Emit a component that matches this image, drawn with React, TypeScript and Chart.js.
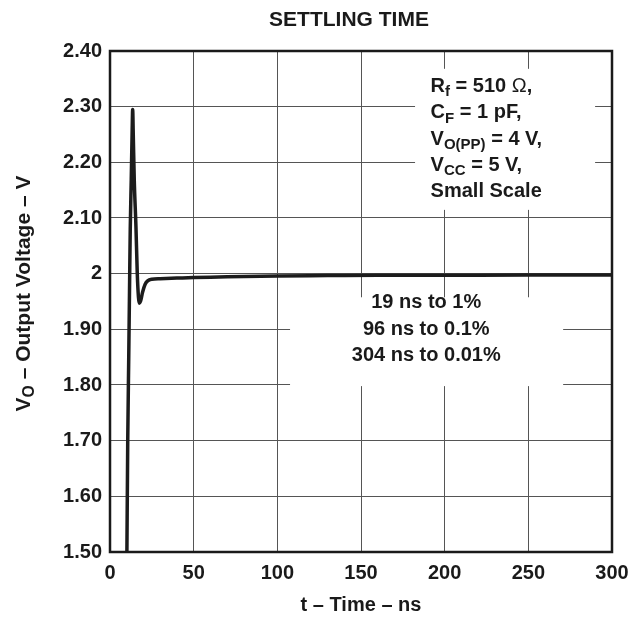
import React, { useEffect, useRef } from "react";
import { Chart, registerables } from "chart.js";

Chart.register(...registerables);

// ---- data ----
const timeNs = [
  10.1, 10.6, 11.2, 11.7, 12.1, 12.7, 13.2, 13.55, 13.9, 14.5, 15.5, 16.3, 17.0, 17.5, 18.2,
  19.5, 21.0, 22.5, 25, 30, 40, 50, 65, 80, 100, 130, 160, 200, 250, 300,
];
const outputVoltage = [
  1.5, 1.7, 1.85, 1.98, 2.08, 2.17, 2.25, 2.295, 2.25, 2.168, 2.085, 2.0, 1.958, 1.947, 1.95,
  1.967, 1.981, 1.987, 1.99, 1.991, 1.992, 1.993, 1.994, 1.995, 1.996, 1.9965, 1.997, 1.9972,
  1.9975, 1.9978,
];
const xTickLabels = ["0", "50", "100", "150", "200", "250", "300"];
const yTickLabels = ["1.50", "1.60", "1.70", "1.80", "1.90", "2", "2.10", "2.20", "2.30", "2.40"];

const chartTitle = "SETTLING TIME";
const xAxisTitle = "t – Time – ns";

type Part = { t: string; sub?: boolean; light?: boolean };
const yAxisTitle: Part[] = [{ t: "V" }, { t: "O", sub: true }, { t: " – Output Voltage – V" }];

const conditionLines: Part[][] = [
  [{ t: "R" }, { t: "f", sub: true }, { t: " = 510 " }, { t: "Ω", light: true }, { t: "," }],
  [{ t: "C" }, { t: "F", sub: true }, { t: " = 1 pF," }],
  [{ t: "V" }, { t: "O(PP)", sub: true }, { t: " = 4 V," }],
  [{ t: "V" }, { t: "CC", sub: true }, { t: " = 5 V," }],
  [{ t: "Small Scale" }],
];
const settlingLines: Part[][] = [
  [{ t: "19 ns to 1%" }],
  [{ t: "96 ns to 0.1%" }],
  [{ t: "304 ns to 0.01%" }],
];

const FONT = "'Liberation Sans', Arial, Helvetica, sans-serif";
const TEXT = "#1a1a1a";

function setFont(ctx: CanvasRenderingContext2D, size: number, p: Part) {
  const s = p.sub ? size * 0.75 : size;
  ctx.font = `${p.light ? "normal" : "bold"} ${s}px ${FONT}`;
}
function richWidth(ctx: CanvasRenderingContext2D, parts: Part[], size: number) {
  let w = 0;
  for (const p of parts) {
    setFont(ctx, size, p);
    w += ctx.measureText(p.t).width;
  }
  return w;
}
function drawRich(
  ctx: CanvasRenderingContext2D,
  parts: Part[],
  x: number,
  y: number,
  size: number,
  align: "left" | "center"
) {
  let cx = align === "center" ? x - richWidth(ctx, parts, size) / 2 : x;
  ctx.textAlign = "left";
  ctx.textBaseline = "alphabetic";
  for (const p of parts) {
    setFont(ctx, size, p);
    ctx.fillText(p.t, cx, y + (p.sub ? size * 0.22 : 0));
    cx += ctx.measureText(p.t).width;
  }
}

const decorPlugin = {
  id: "decor",
  beforeDatasetsDraw(chart: any) {
    const { ctx, scales } = chart;
    const x = scales.x;
    const y = scales.y;
    ctx.save();
    ctx.fillStyle = "#ffffff";
    // boxes behind annotation text (data coordinates)
    const boxes = [
      [182.3, 289.9, 2.368, 2.1146],
      [107.6, 270.8, 1.9576, 1.798],
    ];
    for (const [x0, x1, y0, y1] of boxes) {
      const px0 = x.getPixelForValue(x0);
      const px1 = x.getPixelForValue(x1);
      const py0 = y.getPixelForValue(y0);
      const py1 = y.getPixelForValue(y1);
      ctx.fillRect(px0, py0, px1 - px0, py1 - py0);
    }
    ctx.restore();
  },
  afterDraw(chart: any) {
    const { ctx, chartArea: a, scales } = chart;
    const x = scales.x;
    const y = scales.y;
    ctx.save();
    // frame
    ctx.strokeStyle = "#1a1a1a";
    ctx.lineWidth = 2.5;
    ctx.strokeRect(a.left, a.top, a.right - a.left, a.bottom - a.top);

    ctx.fillStyle = TEXT;
    // title
    ctx.font = `bold 21px ${FONT}`;
    ctx.textAlign = "center";
    ctx.textBaseline = "alphabetic";
    ctx.fillText(chartTitle, (a.left + a.right) / 2 - 12, 26);
    // x axis title
    ctx.font = `bold 20px ${FONT}`;
    ctx.fillText(xAxisTitle, (a.left + a.right) / 2, 611);
    // y axis title (rotated)
    ctx.save();
    ctx.translate(29.5, (a.top + a.bottom) / 2 - 8);
    ctx.rotate(-Math.PI / 2);
    drawRich(ctx, yAxisTitle, 0, 0, 21, "center");
    ctx.restore();

    // condition annotation (left aligned)
    const cx = x.getPixelForValue(191.6);
    const cy0 = y.getPixelForValue(2.3);
    const lh = 26.3;
    conditionLines.forEach((ln, i) => drawRich(ctx, ln, cx, cy0 - 14.7 + i * lh, 20, "left"));

    // settling annotation (centered)
    const sx = x.getPixelForValue(189);
    const sy0 = y.getPixelForValue(1.9);
    settlingLines.forEach((ln, i) => drawRich(ctx, ln, sx, sy0 - 21 + i * 26.4, 20, "center"));
    ctx.restore();
  },
};

export default function App() {
  const ref = useRef<HTMLCanvasElement | null>(null);
  useEffect(() => {
    if (!ref.current) return;
    const chart = new Chart(ref.current, {
      type: "line",
      data: {
        datasets: [
          {
            data: timeNs.map((t, i) => ({ x: t, y: outputVoltage[i] })),
            borderColor: "#1c1c1c",
            borderWidth: 3.5,
            pointRadius: 0,
            cubicInterpolationMode: "monotone",
            fill: false,
          },
        ],
      },
      options: {
        animation: false,
        responsive: false,
        devicePixelRatio: 1,
        layout: { padding: { left: 0, top: 51, right: 31, bottom: 0 } },
        plugins: { legend: { display: false }, tooltip: { enabled: false }, title: { display: false } },
        scales: {
          x: {
            type: "linear",
            min: 0,
            max: 300,
            afterFit: (s: any) => {
              s.height = 66;
            },
            ticks: {
              stepSize: 50,
              padding: 9,
              color: TEXT,
              font: { family: FONT, size: 20, weight: "bold" },
              callback: (_v: any, i: number) => xTickLabels[i],
            },
            grid: { color: "#555555", lineWidth: 1, drawTicks: false },
            border: { display: false },
          },
          y: {
            type: "linear",
            min: 1.5,
            max: 2.4,
            afterFit: (s: any) => {
              s.width = 110;
            },
            ticks: {
              stepSize: 0.1,
              padding: 8,
              color: TEXT,
              font: { family: FONT, size: 20, weight: "bold" },
              callback: (_v: any, i: number) => yTickLabels[i],
            },
            grid: { color: "#555555", lineWidth: 1, drawTicks: false },
            border: { display: false },
          },
        },
      },
      plugins: [decorPlugin],
    } as any);
    return () => chart.destroy();
  }, []);
  return (
    <div style={{ position: "absolute", left: 0, top: 0, width: 643, height: 618, background: "#fff" }}>
      <canvas ref={ref} width={643} height={618} style={{ display: "block" }} />
    </div>
  );
}
